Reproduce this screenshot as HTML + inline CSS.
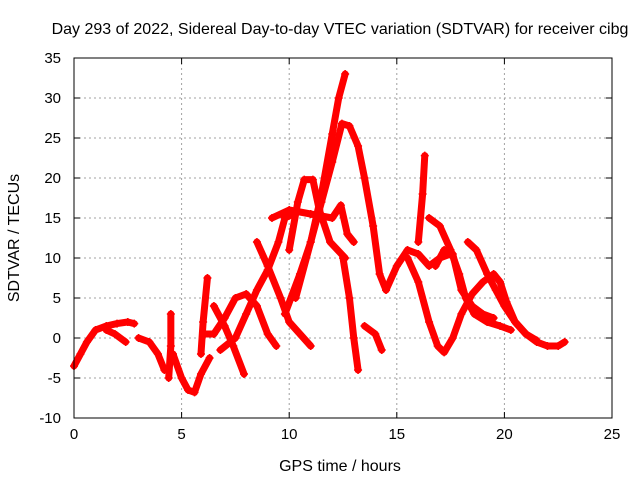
<!DOCTYPE html>
<html><head><meta charset="utf-8"><style>
body{margin:0;background:#fff}
svg{display:block;font-family:"Liberation Sans",sans-serif}
</style></head><body>
<svg id="chart" width="640" height="480">
<rect width="640" height="480" fill="#fff"/>
<text x="340" y="34" font-size="16" text-anchor="middle">Day 293 of 2022, Sidereal Day-to-day VTEC variation (SDTVAR) for receiver cibg</text>
<text x="340" y="471" font-size="16" text-anchor="middle">GPS time / hours</text>
<text x="19" y="238" font-size="16" text-anchor="middle" transform="rotate(-90 19 238)">SDTVAR / TECUs</text>
<g id="grid"></g><g id="marks"></g>
<rect x="74" y="58" width="538" height="360" fill="none" stroke="#000"/>
</svg>
<script>
const xTicks=[0,5,10,15,20,25];
const yTicks=[-10,-5,0,5,10,15,20,25,30,35];
const trackA=[[0,-3.5],[0.3,-2],[0.6,-0.5],[1,1],[1.5,1.5],[2,1.8],[2.5,2],[2.8,1.8]];
const trackB=[[1.5,1],[1.9,0.5],[2.4,-0.5]];
const trackC=[[3,0],[3.5,-0.5],[3.9,-2],[4.2,-4]];
const trackD=[[4.4,-5],[4.5,-1],[4.5,3]];
const trackE=[[4.6,-2],[5,-5],[5.3,-6.5],[5.6,-6.8],[5.9,-4.5],[6.3,-2.5]];
const trackF=[[5.9,-2],[6,2],[6.2,7.5]];
const trackG=[[6.5,4],[7,1.5],[7.4,-1],[7.9,-4.5]];
const trackH=[[6,0.5],[6.5,0.5],[7,2.5],[7.5,5],[8,5.5],[8.5,4],[9,0.5],[9.4,-1]];
const trackI=[[6.8,-1.5],[7.5,0],[8,3],[8.5,6],[9,8.5],[9.5,12],[9.8,15],[10.2,15.5]];
const trackJ=[[8.5,12],[9,9],[9.6,5],[10,2],[10.5,0.5],[11,-1]];
const trackK=[[9.8,3],[10.5,8],[11,12],[11.5,17],[12,22],[12.45,26.8],[12.8,26.5],[13.2,24],[13.5,20],[13.9,14],[14.2,8],[14.5,6]];
const trackL=[[10.3,5],[11,12],[11.5,18],[12,25.5],[12.3,30],[12.6,33]];
const trackM=[[10,11],[10.4,17],[10.7,19.8],[11.1,19.8],[11.4,16],[11.9,12],[12.6,10]];
const trackN=[[9.2,15],[10,16],[11,15.5],[12,15],[12.4,16.6],[12.7,13],[13,12]];
const trackO=[[12.5,10],[12.8,5],[13,0],[13.2,-4]];
const trackP=[[13.5,1.5],[14,0.5],[14.3,-1.5]];
const trackQ=[[14.5,6],[15,9],[15.5,11],[16,10.5],[16.5,9],[17,10],[17.5,10.5]];
const trackR=[[16,12],[16.2,18],[16.3,22.8]];
const trackS=[[15.5,10],[16,7],[16.5,2],[16.9,-1],[17.2,-1.8],[17.6,0],[18,3],[18.5,5.5],[19,7],[19.5,8],[19.8,7],[20.1,4.5],[20.5,2],[21,0.5],[21.5,-0.5],[22,-1],[22.5,-1],[22.8,-0.5]];
const trackT=[[18.3,12],[18.7,11],[19.2,8],[19.6,6],[20,4],[20.5,2],[21,0.5],[21.5,-0.3]];
const trackU=[[16.5,15],[17,14],[17.5,11],[17.9,8],[18.2,5],[18.6,3],[19.2,2],[19.8,1.5],[20.3,1]];
const trackV=[[16.8,9],[17.2,11],[17.6,10.5],[18,6],[18.5,4],[19,3],[19.5,2.5]];
const tracks=[trackA,trackB,trackC,trackD,trackE,trackF,trackG,trackH,trackI,trackJ,trackK,trackL,trackM,trackN,trackO,trackP,trackQ,trackR,trackS,trackT,trackU,trackV];
const X0=74,X1=612,Y0=418,Y1=58;
const xs=t=>X0+(t-0)/(25-0)*(X1-X0);
const ys=v=>Y0-(v+10)/(45)*(Y0-Y1);
const NS="http://www.w3.org/2000/svg";
const grid=document.getElementById('grid'),marks=document.getElementById('marks');
function mk(tag,attrs,parent){const e=document.createElementNS(NS,tag);for(const k in attrs)e.setAttribute(k,attrs[k]);parent.appendChild(e);return e;}
xTicks.forEach(t=>{
  const x=xs(t);
  if(t>0&&t<25){const g=mk('line',{x1:x,y1:Y1,x2:x,y2:Y0,stroke:'#a0a0a0','stroke-dasharray':'2,3'},grid);
  
  }
  mk('line',{x1:x,y1:Y0,x2:x,y2:Y0-6,stroke:'#000'},grid);
  mk('line',{x1:x,y1:Y1,x2:x,y2:Y1+6,stroke:'#000'},grid);
  const l=mk('text',{x:x,y:Y0+21,'font-size':15,'text-anchor':'middle'},grid);l.textContent=t;
  
  
});
yTicks.forEach(v=>{
  const y=ys(v);
  if(v>-10&&v<35){const g=mk('line',{x1:X0,y1:y,x2:X1,y2:y,stroke:'#a0a0a0','stroke-dasharray':'2,3'},grid);
  
  }
  mk('line',{x1:X0,y1:y,x2:X0+6,y2:y,stroke:'#000'},grid);
  mk('line',{x1:X1,y1:y,x2:X1-6,y2:y,stroke:'#000'},grid);
  const l=mk('text',{x:X0-13,y:y+5,'font-size':15,'text-anchor':'end'},grid);l.textContent=v;
  
  
});
tracks.forEach((tr,i)=>{
  const p=mk('polyline',{points:tr.map(d=>xs(d[0])+','+ys(d[1])).join(' '),fill:'none',stroke:'#f00','stroke-width':7,'stroke-linejoin':'round','stroke-linecap':'round'},marks);
  
  
  tr.forEach(d=>{
    const x=xs(d[0]),y=ys(d[1]);
    const m=mk('path',{d:`M${x-4},${y}H${x+4}M${x},${y-4}V${y+4}`,stroke:'#f00','stroke-width':1.5},marks);
    
    
  });
});
</script>
</body></html>
